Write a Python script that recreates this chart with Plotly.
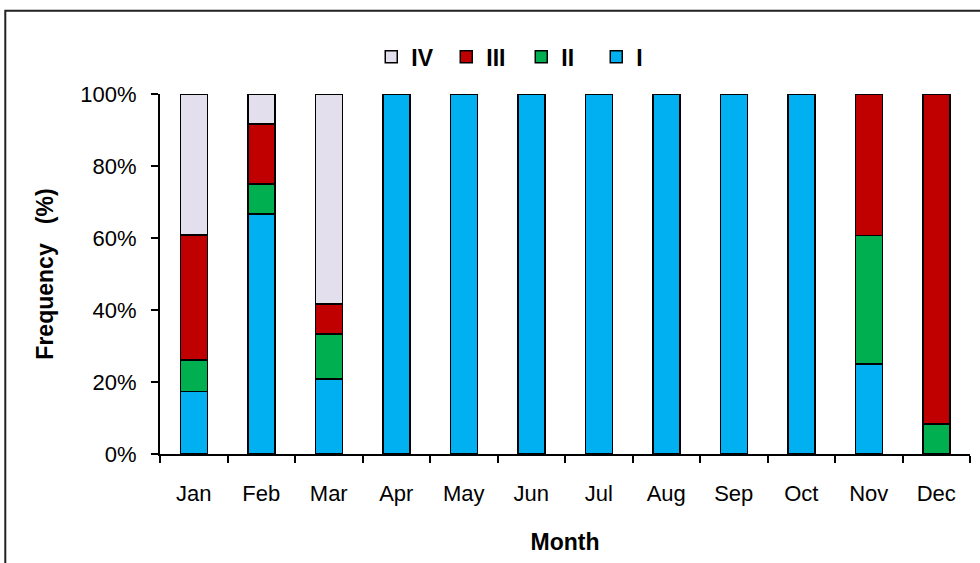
import plotly.graph_objects as go

months = ["Jan", "Feb", "Mar", "Apr", "May", "Jun", "Jul", "Aug", "Sep", "Oct", "Nov", "Dec"]
cls_I = [17.4, 66.7, 20.8, 100, 100, 100, 100, 100, 100, 100, 25.0, 0]
cls_II = [8.7, 8.3, 12.5, 0, 0, 0, 0, 0, 0, 0, 35.7, 8.3]
cls_III = [34.8, 16.7, 8.3, 0, 0, 0, 0, 0, 0, 0, 39.3, 91.7]
cls_IV = [39.1, 8.3, 58.4, 0, 0, 0, 0, 0, 0, 0, 0, 0]

series = [("I", cls_I, "#00B0F0"), ("II", cls_II, "#00B050"),
          ("III", cls_III, "#C00000"), ("IV", cls_IV, "#E4DFEC")]

FONT = "Liberation Sans, Arial, sans-serif"

fig = go.Figure()
for name, vals, col in series:
    fig.add_trace(go.Bar(
        x=months, y=vals, name=name,
        marker=dict(color=col, line=dict(color="black", width=1.5)),
        width=0.4,
    ))

fig.update_layout(
    barmode="stack",
    width=980, height=563,
    margin=dict(l=160, r=10, t=94, b=109),
    paper_bgcolor="white", plot_bgcolor="white",
    font=dict(family=FONT, size=22, color="black"),
    legend=dict(orientation="h", traceorder="reversed",
                x=0.446, xanchor="center", y=1.103, yanchor="middle",
                font=dict(size=23, family=FONT, weight="bold"),
                bgcolor="rgba(0,0,0,0)", itemwidth=30,
                entrywidth=30, entrywidthmode="pixels"),
    xaxis=dict(showline=True, linecolor="black", linewidth=2,
               ticks="outside", tickson="boundaries", ticklen=7, tickcolor="black", tickwidth=2,
               ticklabelstandoff=19,
               title=dict(text="<b>Month</b>", font=dict(size=23), standoff=28),
               tickfont=dict(size=22)),
    yaxis=dict(range=[0, 100], tickvals=[0, 20, 40, 60, 80, 100],
               ticktext=["0%", "20%", "40%", "60%", "80%", "100%"],
               showline=True, linecolor="black", linewidth=2, showgrid=False, zeroline=False,
               ticks="outside", ticklen=7, tickcolor="black", tickwidth=2,
               ticklabelstandoff=10,
               title=dict(text="<b>Frequency\u00a0\u00a0\u00a0(%)</b>", font=dict(size=23), standoff=20),
               tickfont=dict(size=22)),
    shapes=[dict(type="rect", xref="paper", yref="paper",
                 x0=-0.191, x1=1.03, y0=-0.35, y1=1.231,
                 line=dict(color="#222", width=2), fillcolor="rgba(0,0,0,0)", layer="below")],
)

fig.write_html("out.html", config={"displayModeBar": False},
               post_script="document.body.style.margin='0';")
